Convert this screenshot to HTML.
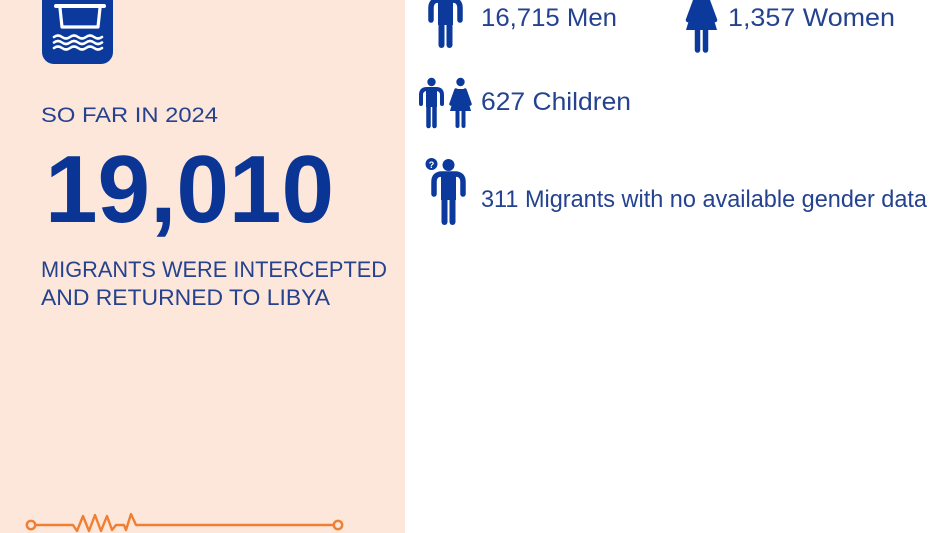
<!DOCTYPE html>
<html>
<head>
<meta charset="utf-8">
<style>
  html, body { margin:0; padding:0; background:#ffffff; }
  body { width:950px; height:533px; overflow:hidden; }
  svg { display:block; }
  text { font-family: "Liberation Sans", "DejaVu Sans", sans-serif; }
</style>
</head>
<body>
<svg width="950" height="533" viewBox="0 0 950 533" xmlns="http://www.w3.org/2000/svg">
  <!-- backgrounds -->
  <rect x="0" y="0" width="950" height="533" fill="#ffffff"/>
  <rect x="0" y="0" width="405" height="533" fill="#fde6da"/>

  <!-- boat icon -->
  <rect x="42" y="-14" width="71" height="78" rx="12" ry="12" fill="#0b3a9c"/>
  <g fill="none" stroke="#ffffff" stroke-linecap="round" stroke-linejoin="round">
    <path d="M56 6 L104 6" stroke-width="4"/>
    <path d="M60 8 L62 27 L98 27 L100 8" stroke-width="3.2"/>
    <path d="M54 37 q4 -3 8 0 t8 0 t8 0 t8 0 t8 0 t8 0" stroke-width="2.6"/>
    <path d="M54 42.5 q4 -3 8 0 t8 0 t8 0 t8 0 t8 0 t8 0" stroke-width="2.6"/>
    <path d="M54 48 q4 -3 8 0 t8 0 t8 0 t8 0 t8 0 t8 0" stroke-width="2.6"/>
  </g>

  <!-- left texts -->
  <text x="41" y="122" font-size="21" fill="#24428f" textLength="177" lengthAdjust="spacingAndGlyphs">SO FAR IN 2024</text>
  <text x="45" y="222" font-size="96" font-weight="bold" fill="#0b3595" textLength="289" lengthAdjust="spacingAndGlyphs">19,010</text>
  <text x="41" y="277" font-size="22" fill="#24428f" textLength="346" lengthAdjust="spacingAndGlyphs">MIGRANTS WERE INTERCEPTED</text>
  <text x="41" y="305" font-size="22" fill="#24428f" textLength="289" lengthAdjust="spacingAndGlyphs">AND RETURNED TO LIBYA</text>

  <!-- orange line -->
  <g fill="none" stroke="#f07f33" stroke-width="2.4" stroke-linejoin="round" stroke-linecap="round">
    <circle cx="31" cy="525" r="4.2" fill="#fde6da"/>
    <circle cx="338" cy="525" r="4.2" fill="#fde6da"/>
    <path d="M35 525 L73 525 L77 531 L83 516 L89 531 L95 515 L101 531 L107 516 L112 530 L116 525 L124 525 L126 530 L131 514 L136 525 L334 525"/>
  </g>

  <!-- man icon -->
  <g fill="#0b3a9c" stroke="#0b3a9c">
    <circle cx="445.5" cy="-8" r="6" stroke="none"/>
    <path d="M431 20 L431 8 Q431 0 439 0 L452 0 Q460 0 460 8 L460 20" fill="none" stroke-width="5.5" stroke-linecap="round"/>
    <rect x="438" y="0" width="15" height="25" stroke="none"/>
    <line x1="441.5" y1="22" x2="441.5" y2="45" stroke-width="6" stroke-linecap="round"/>
    <line x1="449.5" y1="22" x2="449.5" y2="45" stroke-width="6" stroke-linecap="round"/>
  </g>

  <!-- woman icon -->
  <g fill="#0b3a9c" stroke="#0b3a9c">
    <circle cx="701.5" cy="-9" r="6" stroke="none"/>
    <path d="M695 0 L708 0 L717 30 L686 30 Z" stroke="none"/>
    <path d="M695 1 L688 20 M708 1 L715 20" stroke-width="4.5" stroke-linecap="round" fill="none"/>
    <line x1="697.5" y1="28" x2="697.5" y2="50" stroke-width="5.5" stroke-linecap="round"/>
    <line x1="705.5" y1="28" x2="705.5" y2="50" stroke-width="5.5" stroke-linecap="round"/>
  </g>

  <!-- children icons -->
  <g fill="#0b3a9c" stroke="#0b3a9c">
    <!-- boy -->
    <circle cx="431.5" cy="82" r="4.2" stroke="none"/>
    <path d="M421 104 L421 95 Q421 89 427 89 L436 89 Q442 89 442 95 L442 104" fill="none" stroke-width="4" stroke-linecap="round"/>
    <rect x="426" y="89" width="11" height="18" stroke="none"/>
    <line x1="428.5" y1="106" x2="428.5" y2="126" stroke-width="4.5" stroke-linecap="round"/>
    <line x1="434.5" y1="106" x2="434.5" y2="126" stroke-width="4.5" stroke-linecap="round"/>
    <!-- girl -->
    <circle cx="460.5" cy="82" r="4.2" stroke="none"/>
    <path d="M456 89 L465 89 L471 111 L450 111 Z" stroke="none"/>
    <path d="M456 90 L451 104 M465 90 L470 104" stroke-width="3.5" stroke-linecap="round" fill="none"/>
    <line x1="457.5" y1="110" x2="457.5" y2="126" stroke-width="4" stroke-linecap="round"/>
    <line x1="463.5" y1="110" x2="463.5" y2="126" stroke-width="4" stroke-linecap="round"/>
  </g>

  <!-- unknown gender icon -->
  <g fill="#0b3a9c" stroke="#0b3a9c">
    <circle cx="431.5" cy="164" r="6" stroke="none"/>
    <text x="431.5" y="168" font-size="9" font-weight="bold" fill="#ffffff" stroke="none" text-anchor="middle">?</text>
    <circle cx="448.5" cy="165" r="6" stroke="none"/>
    <path d="M434 194 L434 182 Q434 174 442 174 L455 174 Q463 174 463 182 L463 194" fill="none" stroke-width="5.5" stroke-linecap="round"/>
    <rect x="441" y="174" width="15" height="26" stroke="none"/>
    <line x1="444.5" y1="198" x2="444.5" y2="222" stroke-width="6" stroke-linecap="round"/>
    <line x1="452.5" y1="198" x2="452.5" y2="222" stroke-width="6" stroke-linecap="round"/>
  </g>

  <!-- right texts -->
  <text x="481" y="26" font-size="25" fill="#24428f" textLength="136" lengthAdjust="spacingAndGlyphs">16,715 Men</text>
  <text x="728" y="26" font-size="25" fill="#24428f" textLength="167" lengthAdjust="spacingAndGlyphs">1,357 Women</text>
  <text x="481" y="110" font-size="25" fill="#24428f" textLength="150" lengthAdjust="spacingAndGlyphs">627 Children</text>
  <text x="481" y="207" font-size="24" fill="#24428f" textLength="446" lengthAdjust="spacingAndGlyphs">311 Migrants with no available gender data</text>
</svg>
</body>
</html>
